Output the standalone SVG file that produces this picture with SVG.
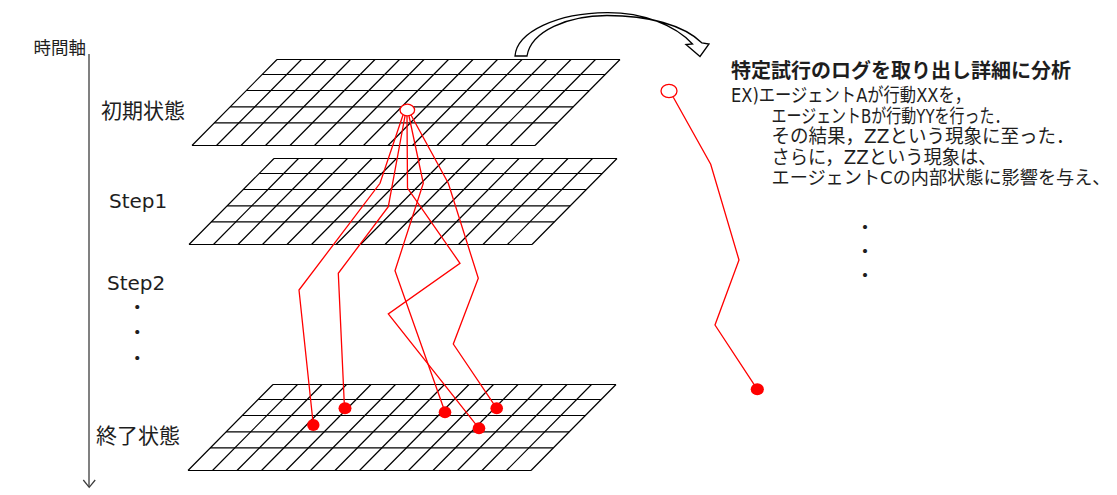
<svg xmlns="http://www.w3.org/2000/svg" xmlns:xlink="http://www.w3.org/1999/xlink" width="1117" height="495" viewBox="0 0 1117 495">
  <style>
    .grid { fill: none; stroke: #000; stroke-width: 1.2; }
    .trail { fill: none; stroke: #ff0000; stroke-width: 1.3; stroke-linejoin: miter; }
    .start { fill: #fff; stroke: #ff0000; stroke-width: 1.3; }
    .end { fill: #ff0000; }
    .jp { font-family: "Noto Sans CJK JP", sans-serif; fill: #1e1e1e; }
    .lat { font-family: "DejaVu Sans", "Noto Sans CJK JP", sans-serif; fill: #1e1e1e; }
    .dots { font-family: "Noto Sans CJK JP", sans-serif; font-weight: bold; font-size: 16px; fill: #1e1e1e; }
    .axis { fill: none; stroke: #3c3c3c; stroke-width: 1.3; }
  </style>
  <defs>
    <!-- one sheared 14 x 5 grid, origin at its top-left corner -->
    <g id="grid">
      <path class="grid" d="M0,0 H343 M-14.8,15 H328.2 M-30.6,31 H312.4 M-46.8,47.3 H296.2 M-62.7,63.4 H280.3 M-85,86 H258"/>
      <path class="grid" d="M0,0 l-85,86 M24.5,0 l-85,86 M49,0 l-85,86 M73.5,0 l-85,86 M98,0 l-85,86 M122.5,0 l-85,86 M147,0 l-85,86 M171.5,0 l-85,86 M196,0 l-85,86 M220.5,0 l-85,86 M245,0 l-85,86 M269.5,0 l-85,86 M294,0 l-85,86 M318.5,0 l-85,86 M343,0 l-85,86"/>
    </g>
  </defs>

  <!-- time axis -->
  <g id="time-axis">
    <text class="jp" x="86" y="54" font-size="17.5" text-anchor="end">時間軸</text>
    <path class="axis" d="M89,54 V487"/>
    <path class="axis" d="M83.3,480 L89.2,487.3 L95.2,480"/>
  </g>

  <!-- state layers -->
  <g id="layer-initial">
    <use xlink:href="#grid" href="#grid" transform="translate(277,59.5)"/>
    <text class="jp" x="101" y="118" font-size="21">初期状態</text>
  </g>
  <g id="layer-step1">
    <use xlink:href="#grid" href="#grid" transform="translate(274,158.5)"/>
    <text class="lat" x="109" y="207.5" font-size="20">Step1</text>
  </g>
  <g id="layer-step2">
    <text class="lat" x="107" y="289.5" font-size="20">Step2</text>
    <text class="dots" text-anchor="middle"><tspan x="137.3" y="313">・</tspan><tspan x="137.3" y="338">・</tspan><tspan x="137.3" y="364">・</tspan></text>
  </g>
  <g id="layer-final">
    <use xlink:href="#grid" href="#grid" transform="translate(273,384.5)"/>
    <text class="jp" x="96" y="443" font-size="21">終了状態</text>
  </g>

  <!-- trial trajectories from the shared initial state -->
  <g id="trajectories">
    <polyline class="trail" points="403,115 380,183.3 299,290 313.3,425"/>
    <polyline class="trail" points="405,116 388.3,206.7 338.3,273.3 344.5,408.3"/>
    <polyline class="trail" points="407,116 407.5,188 460,263.3 388.3,314 479,428.3"/>
    <polyline class="trail" points="409,116 423.3,183.3 395,270.7 445,412"/>
    <polyline class="trail" points="411,115 448.3,183.3 478.3,278.3 453.3,344 496.7,408.3"/>
    <ellipse class="start" cx="407.3" cy="110" rx="7.3" ry="5.8"/>
    <ellipse class="end" cx="313.3" cy="425" rx="6.2" ry="6"/>
    <ellipse class="end" cx="345" cy="408.3" rx="6.5" ry="6"/>
    <ellipse class="end" cx="445" cy="412.3" rx="6.3" ry="6"/>
    <ellipse class="end" cx="479" cy="428.3" rx="6.3" ry="6"/>
    <ellipse class="end" cx="496.7" cy="408.3" rx="6.3" ry="6"/>
  </g>

  <!-- curved arrow: pick one trial out -->
  <g id="extract-arrow">
    <path d="M515,56 C517,32 557,13 607,12.7 C643,12.5 675,25 692.5,44 L686,44.5 L700,56.5 L709,44 L702,43 C684,25 648,15.5 607,15.5 C568,15.5 531,31 527,56 Z" fill="#fff" stroke="#000" stroke-width="1.3" stroke-linejoin="miter"/>
  </g>

  <!-- the single extracted trajectory -->
  <g id="single-trial">
    <polyline class="trail" points="673.3,97.3 710.7,164.3 739,260 715,325 757.3,389.3"/>
    <ellipse class="start" cx="669" cy="91" rx="8" ry="6.6"/>
    <ellipse class="end" cx="757.3" cy="389.3" rx="6.6" ry="6"/>
  </g>

  <!-- analysis notes -->
  <g id="analysis-note">
    <text class="lat" font-size="19">
      <tspan class="jp" x="731" y="78" font-size="20" font-weight="bold">特定試行のログを取り出し詳細に分析</tspan>
      <tspan x="731" y="102" textLength="240" lengthAdjust="spacingAndGlyphs">EX)エージェントAが行動XXを，</tspan>
      <tspan x="771.5" y="122.5" textLength="238" lengthAdjust="spacingAndGlyphs">エージェントBが行動YYを行った．</tspan>
      <tspan x="771.5" y="143" textLength="303" lengthAdjust="spacingAndGlyphs">その結果，ZZという現象に至った．</tspan>
      <tspan x="771.5" y="163.5" textLength="225" lengthAdjust="spacingAndGlyphs">さらに，ZZという現象は、</tspan>
      <tspan x="771.5" y="184" font-size="18.3" textLength="339" lengthAdjust="spacingAndGlyphs">エージェントCの内部状態に影響を与え、</tspan>
    </text>
    <text class="dots" text-anchor="middle"><tspan x="865" y="233">・</tspan><tspan x="865" y="257">・</tspan><tspan x="865" y="281">・</tspan></text>
  </g>
</svg>
